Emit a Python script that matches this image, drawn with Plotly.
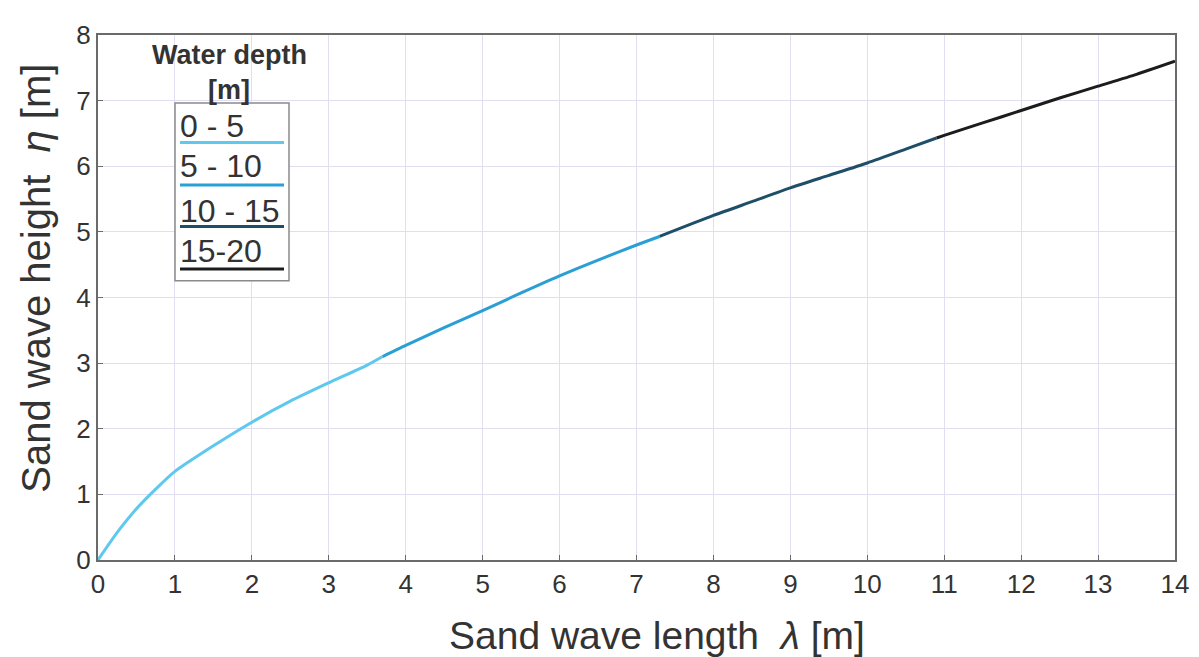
import plotly.graph_objects as go

# Data
depth_classes = ["0 - 5", "5 - 10", "10 - 15", "15-20"]
colors = ["#5ec8ee", "#2a9fd6", "#1f4f68", "#1c1c1c"]

x_0_5 = [0, 0.25, 0.5, 0.75, 1.0, 1.5, 2.0, 2.5, 3.0, 3.5, 3.7]
y_0_5 = [0, 0.42, 0.78, 1.08, 1.35, 1.74, 2.1, 2.42, 2.7, 2.97, 3.1]
x_5_10 = [3.7, 4.0, 4.5, 5.0, 5.5, 6.0, 6.5, 7.0, 7.3]
y_5_10 = [3.1, 3.27, 3.54, 3.8, 4.07, 4.33, 4.57, 4.8, 4.93]
x_10_15 = [7.3, 8.0, 8.5, 9.0, 9.5, 10.0, 10.5, 10.9]
y_10_15 = [4.93, 5.25, 5.46, 5.67, 5.86, 6.05, 6.26, 6.43]
x_15_20 = [10.9, 11.0, 11.5, 12.0, 12.5, 13.0, 13.5, 14.0]
y_15_20 = [6.43, 6.47, 6.66, 6.85, 7.04, 7.22, 7.4, 7.6]

xs = [x_0_5, x_5_10, x_10_15, x_15_20]
ys = [y_0_5, y_5_10, y_10_15, y_15_20]

x_ticks = list(range(0, 15))
y_ticks = list(range(0, 9))

x_title = "Sand wave length  <i>λ</i> [m]"
y_title = "Sand wave height  <i>η</i> [m]"
legend_title = "<b>Water depth</b><br><b>[m]</b>"

W, H = 1199, 657
OFF = 8  # page body margin
PL, PT, PW, PH = 98, 28, 1077, 532  # plot area on screen
L, T = PL - OFF, PT - OFF
R = W - L - PW
B = H - T - PH

def px(xp):
    return (xp - PL) / PW

def py(yp):
    return (PT + PH - yp) / PH

FONT = "Liberation Sans, Arial, Helvetica"
TXT = "#333333"

fig = go.Figure()
for name, c, xx, yy in zip(depth_classes, colors, xs, ys):
    fig.add_trace(go.Scatter(x=xx, y=yy, mode="lines", name=name,
                             line=dict(color=c, width=3, shape="spline", smoothing=0.6),
                             showlegend=False))

axis_common = dict(showline=True, linecolor="#6a6a6a", linewidth=2, mirror=True,
                   showgrid=True, gridcolor="#e2def2", gridwidth=1,
                   ticks="inside", ticklen=5, tickcolor="#6a6a6a",
                   tickfont=dict(family=FONT, size=26, color=TXT),
                   zeroline=False)

fig.update_xaxes(range=[0, 14], tickvals=x_ticks, **axis_common)
fig.update_yaxes(range=[0, 8], tickvals=y_ticks, **axis_common)

shapes = []
annotations = []
# axis titles
annotations.append(dict(text=x_title, x=px(657), y=py(637), xref="paper", yref="paper",
                        showarrow=False, xanchor="center", yanchor="middle",
                        font=dict(family=FONT, size=39, color=TXT)))
annotations.append(dict(text=y_title, x=px(36), y=py(275), xref="paper", yref="paper",
                        showarrow=False, xanchor="center", yanchor="middle", textangle=-90,
                        font=dict(family=FONT, size=40, color=TXT)))

# custom legend
annotations.append(dict(text="<b>Water depth</b>", x=px(229), y=py(48), xref="paper", yref="paper",
                        showarrow=False, xanchor="center", yanchor="middle",
                        font=dict(family=FONT, size=27, color=TXT)))
annotations.append(dict(text="<b>[m]</b>", x=px(229), y=py(84), xref="paper", yref="paper",
                        showarrow=False, xanchor="center", yanchor="middle",
                        font=dict(family=FONT, size=27, color=TXT)))
shapes.append(dict(type="rect", xref="paper", yref="paper", x0=px(175), x1=px(289), y0=py(277), y1=py(97),
                   line=dict(color="#8a8a8a", width=1.5), fillcolor="white", layer="above"))
text_y = [120, 161, 206, 247]
line_y = [137, 180, 222, 265]
for name, c, ty, ly in zip(depth_classes, colors, text_y, line_y):
    annotations.append(dict(text=name, x=px(178), y=py(ty), xref="paper", yref="paper",
                            showarrow=False, xanchor="left", yanchor="middle",
                            font=dict(family=FONT, size=32, color=TXT)))
    shapes.append(dict(type="line", xref="paper", yref="paper", x0=px(180), x1=px(284),
                       y0=py(ly), y1=py(ly), line=dict(color=c, width=3), layer="above"))

fig.update_layout(width=W, height=H, margin=dict(l=L, r=R, t=T, b=B),
                  plot_bgcolor="white", paper_bgcolor="white",
                  shapes=shapes, annotations=annotations)

fig.write_html("out.html")
